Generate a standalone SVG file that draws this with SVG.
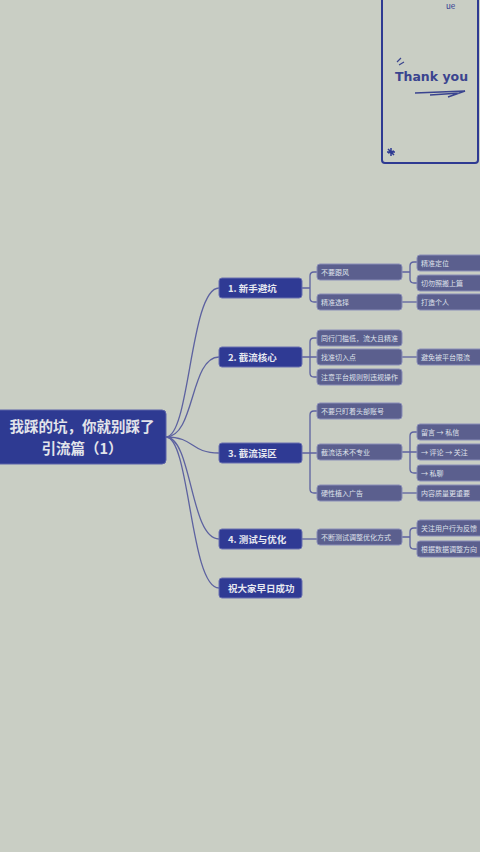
<svg xmlns="http://www.w3.org/2000/svg" width="480" height="852" viewBox="0 0 480 852">
<style>
.t{font-family:"Noto Sans CJK SC","Noto Sans",sans-serif;}
.l1 rect{fill:#2f3a94;stroke:#6a70b0;stroke-width:1;}
.l1 text{fill:#e6e8f0;font-size:9.5px;font-weight:bold;}
.l2 rect{fill:#5b5f8e;stroke:#8a8eb8;stroke-width:1;}
.l2 text{fill:#dfe1ea;font-size:7px;}
.c path{fill:none;stroke:#5d62a0;stroke-width:1.3;}
</style>
<rect width="480" height="852" fill="#c9cec4"/>
<g id="card">
<rect x="382" y="-10" width="96" height="173" rx="3" fill="none" stroke="#2e3a92" stroke-width="2"/>
<text x="446" y="9" class="t" font-size="8" fill="#2e3a92">ue</text>
<text x="395" y="81" font-family="DejaVu Sans,sans-serif" font-size="12.5" font-weight="bold" fill="#3a448f">Thank you</text>
<path d="M397 62 l4 -4 M399 65 l5 -3" stroke="#3a448f" stroke-width="1.2"/>
<path d="M415 93 L465 91 L448 97 M430 95 L460 93" fill="none" stroke="#3a448f" stroke-width="1.5"/>
<path d="M391 152 m-4 0 h8 m-4 -4 v8 m-3 -3 l6 -2 m-6 -2 l6 6" stroke="#2e3a92" stroke-width="1.5"/>
</g>
<g class="c">
<path d="M166 437 C190 437 190 288 219 288"/>
<path d="M166 437 C195 437 190 357 219 357"/>
<path d="M166 437 C195 437 190 453 219 453"/>
<path d="M166 437 C192 437 190 539 219 539"/>
<path d="M166 437 C190 437 190 588 219 588"/>
<path d="M302 288 H310 M317 272 H314 Q310 272 310 276 V298 Q310 302 314 302 H317"/>
<path d="M302 357 H317 M317 338 H314 Q310 338 310 342 V373 Q310 377 314 377 H317"/>
<path d="M302 453 H317 M317 411 H314 Q310 411 310 415 V489 Q310 493 314 493 H317"/>
<path d="M302 539 H317"/>
<path d="M402 272 H410 M417 262 H414 Q410 262 410 266 V279 Q410 283 414 283 H417"/>
<path d="M402 302 H417"/>
<path d="M402 357 H417"/>
<path d="M402 452 H417 M417 432 H414 Q410 432 410 436 V469 Q410 473 414 473 H417"/>
<path d="M402 493 H417"/>
<path d="M402 537 H410 M417 528 H414 Q410 528 410 532 V545 Q410 549 414 549 H417"/>
</g>
<g id="root">
<rect x="-6" y="410" width="172" height="54" rx="4" fill="#2e3a92" stroke="#5a62a8"/>
<text x="82" y="432" text-anchor="middle" class="t" font-size="14.5" font-weight="bold" fill="#e2e4ea">我踩的坑，你就别踩了</text>
<text x="82" y="454" text-anchor="middle" class="t" font-size="14.5" font-weight="bold" fill="#e2e4ea">引流篇（1）</text>
</g>
<g id="n1" class="l1 t"><rect x="219" y="278" width="83" height="20" rx="3"/><text x="228" y="292">1. 新手避坑</text></g>
<g id="n2" class="l1 t"><rect x="219" y="347" width="83" height="20" rx="3"/><text x="228" y="361">2. 截流核心</text></g>
<g id="n3" class="l1 t"><rect x="219" y="443" width="83" height="20" rx="3"/><text x="228" y="457">3. 截流误区</text></g>
<g id="n4" class="l1 t"><rect x="219" y="529" width="83" height="20" rx="3"/><text x="228" y="543">4. 测试与优化</text></g>
<g id="n5" class="l1 t"><rect x="219" y="578" width="83" height="20" rx="3"/><text x="228" y="592">祝大家早日成功</text></g>
<g id="n1a" class="l2 t"><rect x="317" y="264" width="85" height="16" rx="3"/><text x="321" y="275">不要跟风</text></g>
<g id="n1b" class="l2 t"><rect x="317" y="294" width="85" height="16" rx="3"/><text x="321" y="305">精准选择</text></g>
<g id="n1a1" class="l2 t"><rect x="417" y="255" width="70" height="16" rx="3"/><text x="421" y="266">精准定位</text></g>
<g id="n1a2" class="l2 t"><rect x="417" y="275" width="70" height="16" rx="3"/><text x="421" y="286">切勿照搬上篇</text></g>
<g id="n1b1" class="l2 t"><rect x="417" y="294" width="70" height="16" rx="3"/><text x="421" y="305">打造个人</text></g>
<g id="n2a" class="l2 t"><rect x="317" y="330" width="85" height="16" rx="3"/><text x="321" y="341">同行门槛低，流大且精准</text></g>
<g id="n2b" class="l2 t"><rect x="317" y="349" width="85" height="16" rx="3"/><text x="321" y="360">找准切入点</text></g>
<g id="n2c" class="l2 t"><rect x="317" y="369" width="85" height="16" rx="3"/><text x="321" y="380">注意平台规则别违规操作</text></g>
<g id="n2b1" class="l2 t"><rect x="417" y="349" width="70" height="16" rx="3"/><text x="421" y="360">避免被平台限流</text></g>
<g id="n3a" class="l2 t"><rect x="317" y="403" width="85" height="16" rx="3"/><text x="321" y="414">不要只盯着头部账号</text></g>
<g id="n3b" class="l2 t"><rect x="317" y="444" width="85" height="16" rx="3"/><text x="321" y="455">截流话术不专业</text></g>
<g id="n3c" class="l2 t"><rect x="317" y="485" width="85" height="16" rx="3"/><text x="321" y="496">硬性植入广告</text></g>
<g id="n3b1" class="l2 t"><rect x="417" y="424" width="70" height="16" rx="3"/><text x="421" y="435">留言 → 私信</text></g>
<g id="n3b2" class="l2 t"><rect x="417" y="444" width="70" height="16" rx="3"/><text x="421" y="455">→ 评论 → 关注</text></g>
<g id="n3b3" class="l2 t"><rect x="417" y="465" width="70" height="16" rx="3"/><text x="421" y="476">→ 私聊</text></g>
<g id="n3c1" class="l2 t"><rect x="417" y="485" width="70" height="16" rx="3"/><text x="421" y="496">内容质量更重要</text></g>
<g id="n4a" class="l2 t"><rect x="317" y="529" width="85" height="16" rx="3"/><text x="321" y="540">不断测试调整优化方式</text></g>
<g id="n4a1" class="l2 t"><rect x="417" y="520" width="70" height="16" rx="3"/><text x="421" y="531" font-size="6.5">关注用户行为反馈</text></g>
<g id="n4a2" class="l2 t"><rect x="417" y="541" width="70" height="16" rx="3"/><text x="421" y="552" font-size="6.5">根据数据调整方向</text></g>
</svg>
